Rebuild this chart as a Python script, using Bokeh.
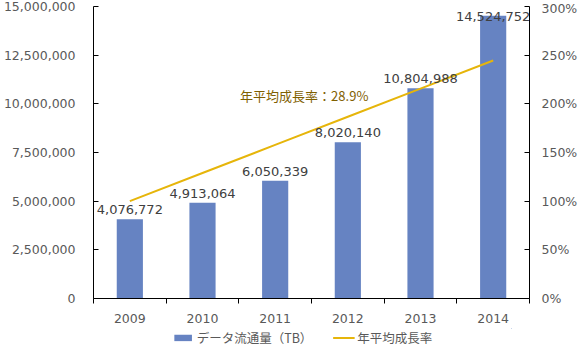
from bokeh.plotting import figure
from bokeh.layouts import column
from bokeh.models import (Range1d, LinearAxis, FixedTicker, NumeralTickFormatter,
                          PrintfTickFormatter, Legend, LegendItem, ColumnDataSource, Label)
from bokeh.core.properties import value
from bokeh.embed import file_html
from bokeh.resources import INLINE

years = ["2009", "2010", "2011", "2012", "2013", "2014"]
traffic_tb = [4076772, 4913064, 6050339, 8020140, 10804988, 14524752]
growth_pct = [100.0, 128.9, 157.8, 186.7, 215.6, 244.5]
traffic_labels = ["4,076,772", "4,913,064", "6,050,339", "8,020,140", "10,804,988", "14,524,752"]
left_ticks = [0, 2500000, 5000000, 7500000, 10000000, 12500000, 15000000]
right_ticks = [0, 50, 100, 150, 200, 250, 300]
bar_name = "データ流通量（TB）"
line_name = "年平均成長率"
annotation = "年平均成長率：28.9%"

BAR = "#6683C2"
LINE = "#E6B50A"
TICK = "#595959"
LAB = "#404040"
FONT = "DejaVu Sans"
JP = "Noto Sans CJK JP"

FH = 292
ymax = left_ticks[-1]
xs = [i + 0.5 for i in range(len(years))]
# labels sit above the bar, or over its top edge if there is no room above
offs = [-5 if (ymax - v) / ymax * FH > 20 else 5 for v in traffic_tb]
src = ColumnDataSource(dict(x=xs, top=traffic_tb, lab=traffic_labels, g=growth_pct, off=offs))

p = figure(frame_width=436, frame_height=FH, output_backend="svg", toolbar_location=None,
           x_range=Range1d(0, len(years)), y_range=Range1d(0, ymax),
           min_border_left=83, min_border_right=43, min_border_top=6, min_border_bottom=30)
p.extra_y_ranges = {"pct": Range1d(0, right_ticks[-1])}
p.outline_line_color = None
p.xgrid.visible = False
p.ygrid.visible = False
p.background_fill_color = "white"

bars = p.vbar(x="x", top="top", width=0.36, source=src, color=BAR, line_color=None)
ln = p.line(x="x", y="g", source=src, y_range_name="pct", line_color=LINE, line_width=2)
p.text(x="x", y="top", text="lab", source=src, text_align="center", text_baseline="bottom",
       y_offset="off", text_font=value(FONT), text_font_size="13px", text_color=LAB)

p.add_layout(Label(x=2.9, y=209, y_range_name="pct", text=annotation, text_align="center",
                   text_baseline="middle", text_font=JP, text_font_size="13px",
                   text_color="#7F6000"))

# x axis
xa = p.xaxis[0]
xa.ticker = FixedTicker(ticks=xs, minor_ticks=list(range(len(years) + 1)))
xa.major_label_overrides = {x: y for x, y in zip(xs, years)}
xa.major_tick_out = 0
xa.major_tick_in = 0
xa.minor_tick_out = 5
xa.minor_tick_in = 0
xa.minor_tick_line_color = "black"
xa.axis_line_color = "black"
xa.major_label_standoff = 10
xa.major_label_text_font = FONT
xa.major_label_text_font_size = "12.5px"
xa.major_label_text_color = TICK

# left axis
ya = p.yaxis[0]
ya.ticker = FixedTicker(ticks=left_ticks)
ya.formatter = NumeralTickFormatter(format="0,0")
ya.major_tick_in = 5
ya.major_tick_out = 0
ya.minor_tick_line_color = None
ya.axis_line_color = "black"
ya.major_tick_line_color = "black"
ya.major_label_standoff = 18
ya.major_label_text_font = FONT
ya.major_label_text_font_size = "12.5px"
ya.major_label_text_color = TICK

# right axis
ra = LinearAxis(y_range_name="pct", ticker=FixedTicker(ticks=right_ticks),
                formatter=PrintfTickFormatter(format="%d%%"))
ra.major_tick_in = 5
ra.major_tick_out = 0
ra.minor_tick_line_color = None
ra.axis_line_color = "black"
ra.major_tick_line_color = "black"
ra.major_label_standoff = 12
ra.major_label_text_font = FONT
ra.major_label_text_font_size = "12.5px"
ra.major_label_text_color = TICK
p.add_layout(ra, "right")

# legend strip under the chart: same series and styles, with a view range that shows no marks
lg = figure(width=562, height=18, output_backend="svg", toolbar_location=None,
            x_range=Range1d(-2, -1), y_range=Range1d(-2, -1),
            x_axis_location=None, y_axis_location=None, min_border=0)
lg.extra_y_ranges = {"pct": Range1d(-2, -1)}
lg.outline_line_color = None
lg.xgrid.visible = False
lg.ygrid.visible = False
lb = lg.vbar(x="x", top="top", width=0.36, source=src, color=BAR, line_color=None)
ll = lg.line(x="x", y="g", source=src, y_range_name="pct", line_color=LINE, line_width=2)
legend = Legend(items=[LegendItem(label=bar_name, renderers=[lb]),
                       LegendItem(label=line_name, renderers=[ll])],
                orientation="horizontal", location="center",
                label_text_font=JP, label_text_font_size="12.5px", label_text_color=TICK,
                glyph_width=22, glyph_height=8, label_standoff=3, spacing=20,
                padding=0, margin=0, border_line_color=None, background_fill_alpha=0,
                label_height=14)
lg.add_layout(legend)

open("out.html", "w").write(file_html(column(p, lg, spacing=0), INLINE))
